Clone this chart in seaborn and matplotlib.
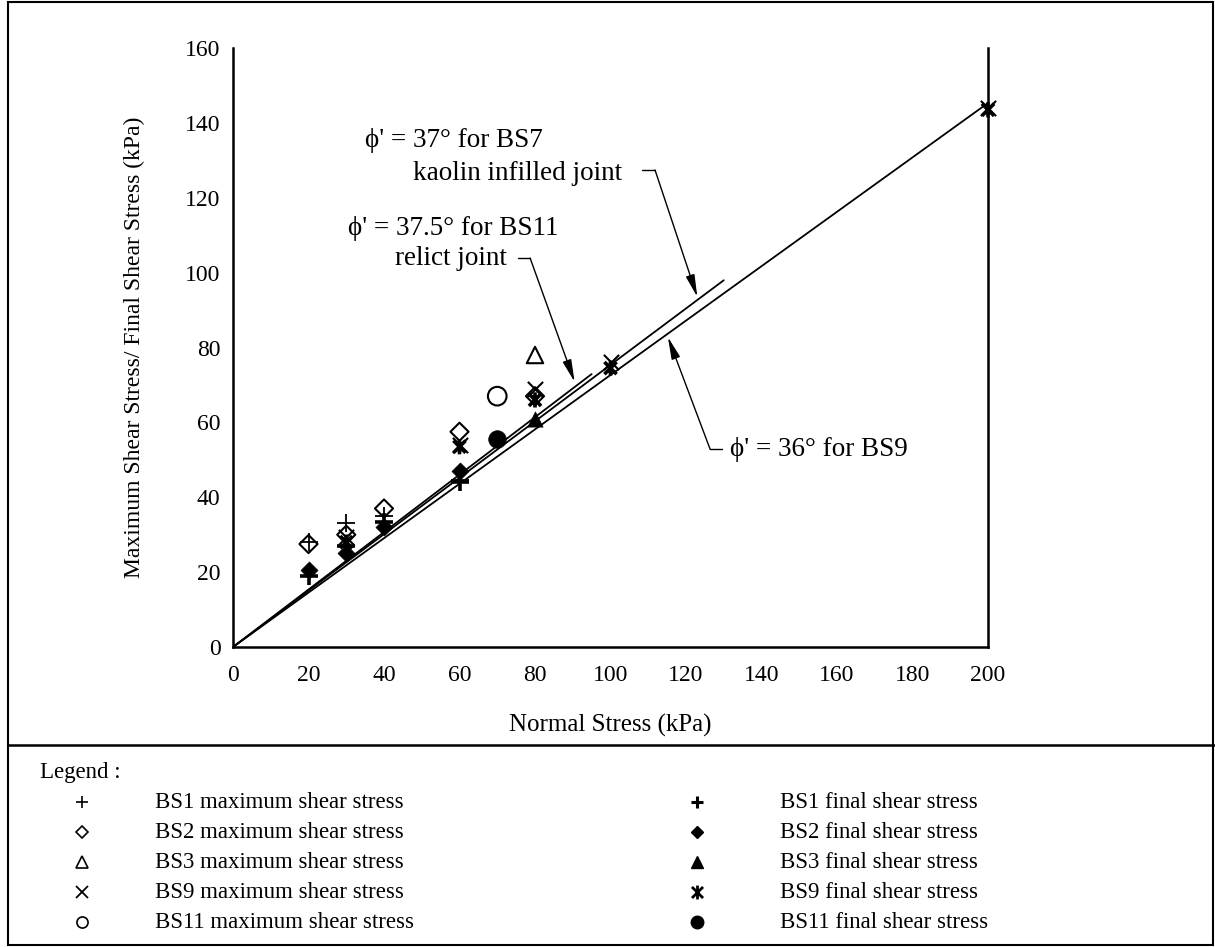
import numpy as np
import matplotlib
matplotlib.use("Agg")
import matplotlib.pyplot as plt
import seaborn as sns
from matplotlib.path import Path
from matplotlib.lines import Line2D
from matplotlib.patches import Rectangle

# ---- test results: normal stress (kPa) vs shear stress (kPa) ----
bs1_max_x = [20, 30, 40, 60]
bs1_max_y = [28, 33, 35, 44.5]
bs1_fin_x = [20, 30, 40, 60]
bs1_fin_y = [19, 27, 33.5, 44]

bs2_max_x = [20, 30, 40, 60, 80]
bs2_max_y = [27.5, 30, 37, 57.5, 67]
bs2_fin_x = [20, 30, 40, 60]
bs2_fin_y = [20.5, 25, 32, 47]

bs3_max_x = [80]
bs3_max_y = [78]
bs3_fin_x = [80]
bs3_fin_y = [61]

bs9_max_x = [30, 60, 80, 100, 200]
bs9_max_y = [29.5, 54, 69, 76, 144]
bs9_fin_x = [30, 60, 80, 100, 200]
bs9_fin_y = [28, 53.5, 66, 74.5, 143.5]

bs11_max_x = [70]
bs11_max_y = [67]
bs11_fin_x = [70]
bs11_fin_y = [55.5]

# ---- failure envelopes (friction angle, extent of line) ----
env_names = ["BS9", "BS7", "BS11"]
env_phi = [36, 37, 37.5]
env_xend = [200, 130, 95]

x_ticks = [0, 20, 40, 60, 80, 100, 120, 140, 160, 180, 200]
y_ticks = [0, 20, 40, 60, 80, 100, 120, 140, 160]

legend_max = ["BS1 maximum shear stress", "BS2 maximum shear stress",
              "BS3 maximum shear stress", "BS9 maximum shear stress",
              "BS11 maximum shear stress"]
legend_fin = ["BS1 final shear stress", "BS2 final shear stress",
              "BS3 final shear stress", "BS9 final shear stress",
              "BS11 final shear stress"]

sns.set_theme(style="white")
plt.rcParams['font.family'] = ['Liberation Serif', 'DejaVu Serif']

W, H = 1215, 947
fig = plt.figure(figsize=(W / 100, H / 100), dpi=100)
fig.patch.set_facecolor("white")


def fx(px):
    return px / W


def fy(py):
    return 1 - py / H


ax = fig.add_axes([fx(233), fy(647), (988 - 233) / W, (647 - 48) / H])
ax.set_facecolor("white")

# "x with a bar" marker for BS9 final
xbar = Path([(-1, -1), (1, 1), (-1, 1), (1, -1), (0, -1.25), (0, 1.25)],
            [Path.MOVETO, Path.LINETO, Path.MOVETO, Path.LINETO,
             Path.MOVETO, Path.LINETO])

K = "black"
# envelopes
for name, phi, xe in zip(env_names, env_phi, env_xend):
    xs = np.array([0, xe])
    sns.lineplot(x=xs, y=xs * np.tan(np.radians(phi)), ax=ax, color=K,
                 lw=1.3, legend=False)

# maximum shear stress (open / thin markers)
sns.scatterplot(x=bs1_max_x, y=bs1_max_y, ax=ax, marker="+", s=170,
                color=K, linewidth=1.3, zorder=3, clip_on=False)
sns.scatterplot(x=bs2_max_x, y=bs2_max_y, ax=ax, marker="D", s=85,
                facecolor="none", edgecolor=K, linewidth=1.5, zorder=3)
sns.scatterplot(x=bs3_max_x, y=bs3_max_y, ax=ax, marker="^", s=140,
                facecolor="none", edgecolor=K, linewidth=1.5, zorder=3)
sns.scatterplot(x=bs9_max_x, y=bs9_max_y, ax=ax, marker="x", s=120,
                color=K, linewidth=1.5, zorder=3, clip_on=False)
sns.scatterplot(x=bs11_max_x, y=bs11_max_y, ax=ax, marker="o", s=180,
                facecolor="none", edgecolor=K, linewidth=1.5, zorder=3)

# final shear stress (filled / bold markers)
sns.scatterplot(x=bs1_fin_x, y=bs1_fin_y, ax=ax, marker="+", s=170,
                color=K, linewidth=2.6, zorder=3)
sns.scatterplot(x=bs2_fin_x, y=bs2_fin_y, ax=ax, marker="D", s=75,
                color=K, edgecolor=K, linewidth=0.5, zorder=3)
sns.scatterplot(x=bs3_fin_x, y=bs3_fin_y, ax=ax, marker="^", s=120,
                color=K, edgecolor=K, linewidth=0.5, zorder=3)
sns.scatterplot(x=bs9_fin_x, y=bs9_fin_y, ax=ax, marker=xbar, s=120,
                facecolor="none", edgecolor=K, linewidth=2.6, zorder=3,
                clip_on=False)
sns.scatterplot(x=bs11_fin_x, y=bs11_fin_y, ax=ax, marker="o", s=160,
                color=K, edgecolor=K, linewidth=0.5, zorder=3)

ax.set_xlim(0, 200)
ax.set_ylim(0, 160)
ax.set_xticks(x_ticks)
ax.set_yticks(y_ticks)
ax.tick_params(axis="both", direction="out", length=7, width=1.5,
               color=K, labelsize=17, labelcolor=K)
ax.tick_params(axis="x", pad=6)
ax.tick_params(axis="y", pad=2)
for side in ["left", "bottom", "right"]:
    ax.spines[side].set_color(K)
    ax.spines[side].set_linewidth(1.8)
ax.spines["top"].set_visible(False)
ax.set_xlabel("Normal Stress (kPa)", fontsize=18, color=K, labelpad=20)
ax.set_ylabel("Maximum Shear Stress/ Final Shear Stress (kPa)",
              fontsize=17, color=K, labelpad=29)

# annotations for the envelopes
ann_fs = 19.5
PHI = "\u03d5"
arrow = dict(arrowstyle="-|>,head_length=0.75,head_width=0.15", lw=1.0,
             color=K, shrinkA=0, shrinkB=0, mutation_scale=18)
ax.text(35.0, 135.4, PHI + "' = 37\u00b0 for BS7", fontsize=ann_fs,
        ha="left", va="center", color=K)
ax.text(47.7, 126.6, "kaolin infilled joint", fontsize=ann_fs,
        ha="left", va="center", color=K)
ax.plot([108.3, 111.8], [127.4, 127.4], color=K, lw=1.0)
ax.annotate("", xy=(123.0, 93.5), xytext=(111.8, 127.4), arrowprops=arrow)

ax.text(30.5, 111.9, PHI + "' = 37.5\u00b0 for BS11", fontsize=ann_fs,
        ha="left", va="center", color=K)
ax.text(42.9, 103.9, "relict joint", fontsize=ann_fs,
        ha="left", va="center", color=K)
ax.plot([75.5, 78.7], [103.9, 103.9], color=K, lw=1.0)
ax.annotate("", xy=(90.5, 70.8), xytext=(78.7, 103.9), arrowprops=arrow)

ax.text(131.7, 52.8, PHI + "' = 36\u00b0 for BS9", fontsize=ann_fs,
        ha="left", va="center", color=K)
ax.plot([126.4, 129.5], [52.8, 52.8], color=K, lw=1.0)
ax.annotate("", xy=(115.2, 82.8), xytext=(126.4, 52.8), arrowprops=arrow)

# outer frame and divider above the legend
fig.add_artist(Rectangle((fx(8), fy(945)), fx(1213) - fx(8), fy(2) - fy(945),
                         transform=fig.transFigure, fill=False,
                         edgecolor=K, lw=1.5))
fig.add_artist(Line2D([fx(8), 1.0], [fy(745), fy(745)],
                      transform=fig.transFigure, color=K, lw=1.8))

# legend block
leg_fs = 16.5
fig.text(fx(40), fy(772), "Legend :", fontsize=leg_fs, color=K,
         ha="left", va="center")
rows = [802, 832, 862, 892, 922]
max_style = [dict(marker="+", ms=9, mew=1.2, color=K),
             dict(marker="D", ms=6, mew=1.2, mfc="none", mec=K),
             dict(marker="^", ms=8, mew=1.2, mfc="none", mec=K),
             dict(marker="x", ms=8, mew=1.3, color=K),
             dict(marker="o", ms=8, mew=1.2, mfc="none", mec=K)]
fin_style = [dict(marker="+", ms=9, mew=2.2, color=K),
             dict(marker="D", ms=6, color=K),
             dict(marker="^", ms=8, color=K),
             dict(marker=xbar, ms=10, mew=2.0, mfc="none", mec=K),
             dict(marker="o", ms=9, color=K)]
for py, lab, st in zip(rows, legend_max, max_style):
    fig.add_artist(Line2D([fx(82)], [fy(py)], transform=fig.transFigure,
                          linestyle="none", **st))
    fig.text(fx(155), fy(py), lab, fontsize=leg_fs, color=K,
             ha="left", va="center")
for py, lab, st in zip(rows, legend_fin, fin_style):
    fig.add_artist(Line2D([fx(697)], [fy(py)], transform=fig.transFigure,
                          linestyle="none", **st))
    fig.text(fx(780), fy(py), lab, fontsize=leg_fs, color=K,
             ha="left", va="center")

fig.savefig("out.png", dpi=100, facecolor="white")
